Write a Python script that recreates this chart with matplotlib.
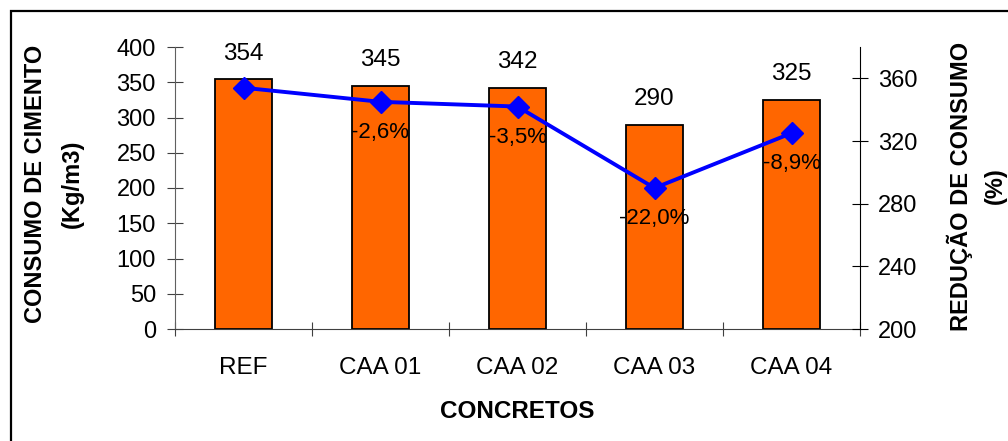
import matplotlib
matplotlib.use("Agg")
import matplotlib.pyplot as plt
from matplotlib.patches import Rectangle

plt.rcParams['font.family'] = ['Liberation Sans', 'DejaVu Sans']

categories = ["REF", "CAA 01", "CAA 02", "CAA 03", "CAA 04"]
consumo = [354, 345, 342, 290, 325]
reducao_labels = ["", "-2,6%", "-3,5%", "-22,0%", "-8,9%"]
left_ticks = [0, 50, 100, 150, 200, 250, 300, 350, 400]
right_ticks = [200, 240, 280, 320, 360]

W, H = 1008, 441
fig = plt.figure(figsize=(W / 100, H / 100), dpi=100)
ax = fig.add_axes([175 / W, 1 - 329 / H, (860 - 175) / W, (329 - 47) / H])
ax2 = ax.twinx()

x = list(range(len(categories)))
ax.bar(x, consumo, width=0.42, color="#FF6600", edgecolor="black", linewidth=1.3, zorder=2)
for xi, v in zip(x, consumo):
    ax.annotate(f"{v}", (xi, v), xytext=(0, 10.5), textcoords="offset points",
                ha="center", va="bottom", fontsize=17.5)

ax.set_xlim(-0.5, len(categories) - 0.5)
ax.set_ylim(0, 400)
ax.set_yticks(left_ticks)
ax.set_xticks([i - 0.5 for i in range(len(categories) + 1)])
ax.set_xticklabels([])
ax.set_xticks(x, minor=True)
ax.set_xticklabels(categories, minor=True, fontsize=17.5)
ax.tick_params(axis="x", which="major", direction="inout", length=10, width=0.8, color="#404040")
ax.tick_params(axis="x", which="minor", length=0, pad=20)
ax.tick_params(axis="y", direction="inout", length=11.5, width=0.8, color="#404040",
               labelsize=17, pad=8)
ax.spines["top"].set_visible(False)
ax.spines["right"].set_visible(False)
ax.spines["left"].set_color("#606060")
ax.spines["bottom"].set_color("#404040")
ax.set_xlabel("CONCRETOS", fontsize=17.5, fontweight="bold", labelpad=15)

ax2.plot(x, consumo, color="#0000FF", linewidth=2.8, marker="D", markersize=11,
         markerfacecolor="#0000FF", markeredgecolor="#0000FF", zorder=3)
for xi, v, lab in zip(x, consumo, reducao_labels):
    if lab:
        ax2.annotate(lab, (xi, v), xytext=(0, -22), textcoords="offset points",
                     ha="center", va="center", fontsize=16)
ax2.set_ylim(200, 380)
ax2.set_yticks(right_ticks)
ax2.tick_params(axis="y", direction="inout", length=11.5, width=0.8, labelsize=17, pad=7)
ax2.spines["top"].set_visible(False)
ax2.spines["left"].set_visible(False)
ax2.spines["bottom"].set_visible(False)

ylabel_style = dict(rotation=90, ha="center", va="center", fontsize=17, fontweight="bold")
fig.text(36 / W, 1 - 184 / H, "CONSUMO DE CIMENTO", **ylabel_style)
fig.text(72 / W, 1 - 184 / H, "(Kg/m3)", **ylabel_style)
fig.text(960 / W, 1 - 186 / H, "REDUÇÃO DE CONSUMO", **ylabel_style)
fig.text(995 / W, 1 - 186 / H, "(%)", **ylabel_style)

fig.patches.append(Rectangle((11 / W, -0.2), 1.2, 1.2 - 11 / H, transform=fig.transFigure,
                             fill=False, edgecolor="black", linewidth=1.6))

fig.savefig("out.png", dpi=100)
